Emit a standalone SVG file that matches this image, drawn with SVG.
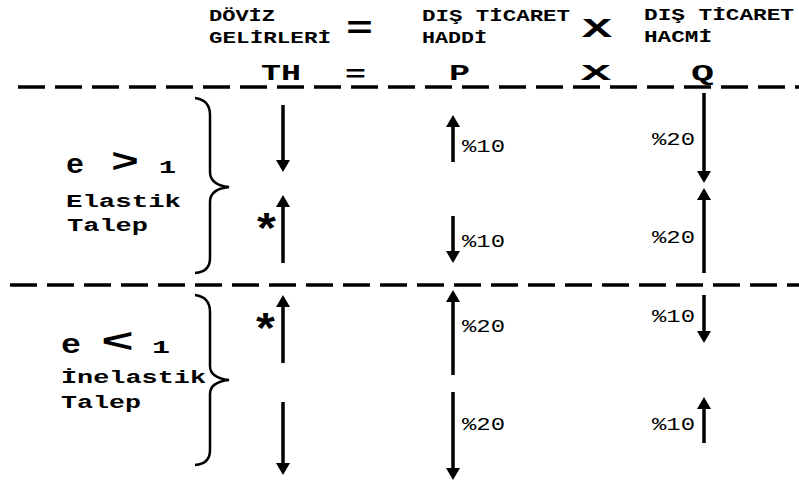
<svg xmlns="http://www.w3.org/2000/svg" width="799" height="482" viewBox="0 0 799 482">
<style>
text{font-family:"Liberation Mono","Courier New",monospace;fill:#000}
.b{font-weight:bold}
.h{font-size:16px;font-weight:bold}
.r2{font-size:22px;font-weight:bold}
.big{font-size:34px;font-weight:bold}
.ast{font-size:42px;font-weight:bold}
.one{font-size:18px;font-weight:bold}
.lab{font-size:18px;font-weight:bold}
.pct{font-size:18px}
.dash{stroke:#000;stroke-width:3.5;stroke-dasharray:27 10;fill:none}
.brace{stroke:#000;stroke-width:2.5;fill:none}
.arr{stroke:#000;stroke-width:3.5;fill:none;marker-end:url(#ah)}
</style>
<defs>
<marker id="ah" viewBox="0 0 12 14" refX="4" refY="7" markerWidth="12" markerHeight="14" markerUnits="userSpaceOnUse" orient="auto">
<path d="M0,0 L12,7 L0,14 z" fill="#000"/>
</marker>
</defs>
<rect width="799" height="482" fill="#fff"/>

<g id="header">
<text class="h" x="209" y="21" textLength="66" lengthAdjust="spacingAndGlyphs">DÖVİZ</text>
<text class="h" x="209" y="43" textLength="122" lengthAdjust="spacingAndGlyphs">GELİRLERİ</text>
<text class="b" x="346" y="38" font-size="32" textLength="27" lengthAdjust="spacingAndGlyphs">=</text>
<text class="h" x="422" y="21" textLength="148" lengthAdjust="spacingAndGlyphs">DIŞ TİCARET</text>
<text class="h" x="422" y="43" textLength="65" lengthAdjust="spacingAndGlyphs">HADDİ</text>
<text class="b" x="582" y="37" font-size="28" textLength="30" lengthAdjust="spacingAndGlyphs">X</text>
<text class="h" x="644" y="20" textLength="150" lengthAdjust="spacingAndGlyphs">DIŞ TİCARET</text>
<text class="h" x="644" y="42" textLength="68" lengthAdjust="spacingAndGlyphs">HACMİ</text>
</g>

<g id="formula">
<text class="r2" x="261" y="80" textLength="40" lengthAdjust="spacingAndGlyphs">TH</text>
<text class="r2" x="345" y="81" textLength="21" lengthAdjust="spacingAndGlyphs">=</text>
<text class="r2" x="449" y="80" textLength="21" lengthAdjust="spacingAndGlyphs">P</text>
<text class="r2" x="581" y="80" textLength="30" lengthAdjust="spacingAndGlyphs">X</text>
<text class="r2" x="691" y="80" textLength="23" lengthAdjust="spacingAndGlyphs">Q</text>
</g>

<g id="separators">
<line class="dash" x1="18" y1="87" x2="799" y2="87"/>
<line class="dash" x1="10" y1="285" x2="799" y2="285"/>
</g>

<g id="elastic">
<text class="b" x="66" y="173" font-size="28" textLength="18" lengthAdjust="spacingAndGlyphs">e</text>
<text class="big" x="111" y="172" textLength="28" lengthAdjust="spacingAndGlyphs">&gt;</text>
<text class="one" x="159" y="173" textLength="17" lengthAdjust="spacingAndGlyphs">1</text>
<text class="lab" x="66" y="207" textLength="115" lengthAdjust="spacingAndGlyphs">Elastik</text>
<text class="lab" x="67" y="231" textLength="81" lengthAdjust="spacingAndGlyphs">Talep</text>
<path class="brace" d="M195,98 Q210,100 210,115 L210,172 Q210,185 229,187 Q210,189 210,202 L210,258 Q210,272 195,273"/>
<text class="ast" x="252" y="244" textLength="29" lengthAdjust="spacingAndGlyphs">*</text>
</g>

<g id="inelastic">
<text class="b" x="61" y="353" font-size="28" textLength="20" lengthAdjust="spacingAndGlyphs">e</text>
<text class="big" x="101" y="352" textLength="33" lengthAdjust="spacingAndGlyphs">&lt;</text>
<text class="one" x="152" y="353" textLength="18" lengthAdjust="spacingAndGlyphs">1</text>
<text class="lab" x="61" y="383" textLength="145" lengthAdjust="spacingAndGlyphs">İnelastik</text>
<text class="lab" x="61" y="408" textLength="80" lengthAdjust="spacingAndGlyphs">Talep</text>
<path class="brace" d="M195,295 Q210,297 210,312 L210,366 Q210,378 229,380 Q210,382 210,394 L210,450 Q210,464 195,465"/>
<text class="ast" x="251" y="344" textLength="29" lengthAdjust="spacingAndGlyphs">*</text>
</g>

<g id="labels">
<text class="pct" x="462" y="152" textLength="43" lengthAdjust="spacingAndGlyphs">%10</text>
<text class="pct" x="462" y="247" textLength="43" lengthAdjust="spacingAndGlyphs">%10</text>
<text class="pct" x="462" y="332" textLength="43" lengthAdjust="spacingAndGlyphs">%20</text>
<text class="pct" x="462" y="430" textLength="43" lengthAdjust="spacingAndGlyphs">%20</text>
<text class="pct" x="652" y="145" textLength="43" lengthAdjust="spacingAndGlyphs">%20</text>
<text class="pct" x="652" y="243" textLength="43" lengthAdjust="spacingAndGlyphs">%20</text>
<text class="pct" x="652" y="322" textLength="43" lengthAdjust="spacingAndGlyphs">%10</text>
<text class="pct" x="652" y="430" textLength="43" lengthAdjust="spacingAndGlyphs">%10</text>
</g>

<g id="connectors">
<line class="arr" x1="283" y1="105" x2="283" y2="164"/>
<line class="arr" x1="283" y1="263" x2="283" y2="203"/>
<line class="arr" x1="283" y1="363" x2="283" y2="303"/>
<line class="arr" x1="283" y1="402" x2="283" y2="467"/>
<line class="arr" x1="453" y1="162" x2="453" y2="123"/>
<line class="arr" x1="453" y1="216" x2="453" y2="255"/>
<line class="arr" x1="453" y1="375" x2="453" y2="298"/>
<line class="arr" x1="453" y1="392" x2="453" y2="472"/>
<line class="arr" x1="704" y1="93" x2="704" y2="175"/>
<line class="arr" x1="704" y1="273" x2="704" y2="196"/>
<line class="arr" x1="704" y1="295" x2="704" y2="335"/>
<line class="arr" x1="704" y1="443" x2="704" y2="405"/>
</g>
</svg>
